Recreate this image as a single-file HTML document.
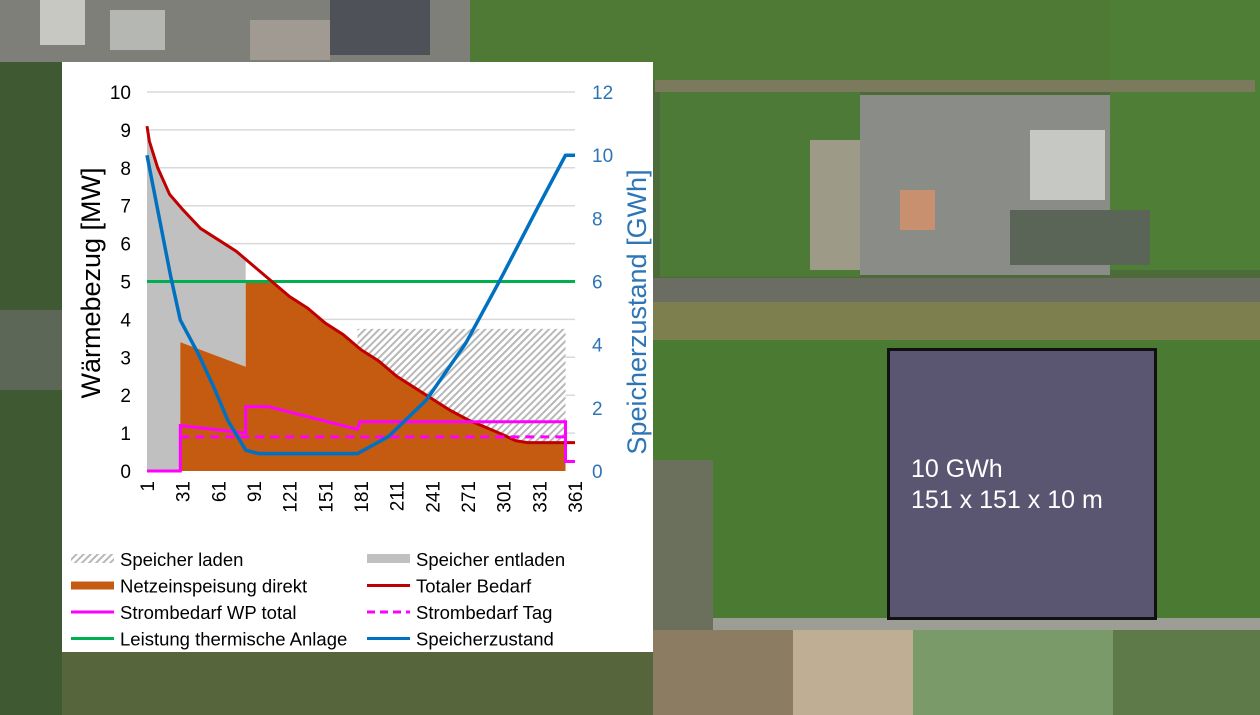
<!DOCTYPE html>
<html><head><meta charset="utf-8"><style>
body{margin:0;width:1260px;height:715px;overflow:hidden;background:#4d6b3a;font-family:"Liberation Sans",sans-serif;position:relative}
.b{position:absolute}
</style></head><body>
<div class="b" style="left:0;top:0;width:1260px;height:715px">
<div class="b" style="left:0;top:0;width:470px;height:62px;background:#7d7f78"></div>
<div class="b" style="left:40px;top:0;width:45px;height:45px;background:#c8c8c2"></div>
<div class="b" style="left:110px;top:10px;width:55px;height:40px;background:#b5b7b2"></div>
<div class="b" style="left:250px;top:20px;width:80px;height:40px;background:#a19a92"></div>
<div class="b" style="left:330px;top:0;width:100px;height:55px;background:#4e5258"></div>
<div class="b" style="left:470px;top:0;width:790px;height:80px;background:#4e7a35"></div>
<div class="b" style="left:1110px;top:0;width:150px;height:270px;background:#4f7e36"></div>
<div class="b" style="left:655px;top:80px;width:600px;height:12px;background:#7b7a5c"></div>
<div class="b" style="left:660px;top:92px;width:200px;height:185px;background:#4d7a36"></div>
<div class="b" style="left:810px;top:140px;width:50px;height:130px;background:#9e9a88"></div>
<div class="b" style="left:860px;top:95px;width:250px;height:180px;background:#8a8c88"></div>
<div class="b" style="left:900px;top:190px;width:35px;height:40px;background:#c99070"></div>
<div class="b" style="left:1010px;top:210px;width:140px;height:55px;background:#5a6558"></div>
<div class="b" style="left:1030px;top:130px;width:75px;height:70px;background:#c6c8c4"></div>
<div class="b" style="left:653px;top:278px;width:607px;height:24px;background:#6c6d62"></div>
<div class="b" style="left:653px;top:302px;width:607px;height:38px;background:#7e7f4f"></div>
<div class="b" style="left:653px;top:340px;width:607px;height:280px;background:#4b7a32"></div>
<div class="b" style="left:653px;top:618px;width:607px;height:12px;background:#9c9e96"></div>
<div class="b" style="left:653px;top:630px;width:140px;height:85px;background:#8b7c62"></div>
<div class="b" style="left:793px;top:630px;width:120px;height:85px;background:#bfae94"></div>
<div class="b" style="left:913px;top:630px;width:200px;height:85px;background:#7a9a6a"></div>
<div class="b" style="left:1113px;top:630px;width:147px;height:85px;background:#5d7a48"></div>
<div class="b" style="left:0;top:62px;width:62px;height:653px;background:#3f5a33"></div>
<div class="b" style="left:0;top:310px;width:62px;height:80px;background:#5d6757"></div>
<div class="b" style="left:62px;top:652px;width:591px;height:63px;background:#56653c"></div>
<div class="b" style="left:653px;top:460px;width:60px;height:170px;background:#6a705c"></div>
</div>
<div class="b" style="left:887px;top:348px;width:264px;height:266px;background:#5a5571;border:3px solid #111"></div>
<div class="b" style="left:911px;top:454px;color:#fff;font-size:25px;line-height:31px">10 GWh<br>151 x 151 x 10 m</div>

<svg class="b" style="left:0;top:0" width="1260" height="715">
<defs><pattern id="h" width="5" height="5" patternUnits="userSpaceOnUse" patternTransform="rotate(45)"><rect width="5" height="5" fill="#fff"/><rect width="2" height="5" fill="#b8b8b8"/></pattern></defs>
<rect x="62" y="62" width="591" height="590" fill="#fff"/>
<g id="g"></g>
</svg>
<script>
const leftTicks=[0,1,2,3,4,5,6,7,8,9,10];
const rightTicks=[0,2,4,6,8,10,12];
const xTicks=[1,31,61,91,121,151,181,211,241,271,301,331,361];
const redDays=[1,3,10,20,31,46,61,76,91,106,121,136,151,166,181,196,211,226,241,256,271,286,301,311,321,361];
const redVals=[9.1,8.7,8.0,7.3,6.9,6.4,6.1,5.8,5.4,5.0,4.6,4.3,3.9,3.6,3.2,2.9,2.5,2.2,1.9,1.6,1.35,1.15,0.95,0.8,0.75,0.75];
const orangeDays=[29,29,84,84,353,353];
const orangeVals=[0,3.4,2.75,5,5,0];
const hatchDays=[178,353];
const hatchTop=3.75;
const blueDays=[1,21,29,44,57,69,84,95,178,204,236,269,298,330,353,361];
const blueVals=[10,6.15,4.78,3.72,2.67,1.6,0.66,0.55,0.55,1.09,2.25,4.04,6.05,8.37,10,10];
const pinkDays=[1,29,29,84,84,103,178,180,353,353,361];
const pinkVals=[0,0,1.2,1.0,1.7,1.7,1.1,1.3,1.3,0.25,0.25];
const dashDays=[29,353];
const dashVal=0.9;
const plantVal=5;
const x=d=>147+(d-1)*1.189, y=v=>471-v*37.9, yR=g=>471-g*31.58;
const NS='http://www.w3.org/2000/svg', G=document.getElementById('g');
function mk(t,a,p){const e=document.createElementNS(NS,t);for(const k in a)e.setAttribute(k,a[k]);(p||G).appendChild(e);return e}
function red(d){for(let i=0;i<redDays.length-1;i++)if(d<=redDays[i+1]){const t=(d-redDays[i])/(redDays[i+1]-redDays[i]);return redVals[i]+t*(redVals[i+1]-redVals[i])}return redVals[redVals.length-1]}
leftTicks.forEach(v=>{if(v>0){const l=mk('line',{x1:x(1),x2:x(361),y1:y(v),y2:y(v),stroke:'#d9d9d9','stroke-width':1.5});}
 const t=mk('text',{x:131,y:y(v)+7,'text-anchor':'end','font-size':19,fill:'#000'});t.textContent=v;});
rightTicks.forEach(g=>{const t=mk('text',{x:592,y:yR(g)+7,'font-size':19,fill:'#2e75b6'});t.textContent=g;});
xTicks.forEach(d=>{const t=mk('text',{transform:`translate(${x(d)+7},481) rotate(-90)`,'text-anchor':'end','font-size':19,fill:'#000'});t.textContent=d;});
let gp=[];for(let d=1;d<=84;d++)gp.push([x(d),y(red(d))]);
let gs='M'+x(1)+','+y(0)+' L'+gp.map(p=>p.join(',')).join(' L')+' L'+x(84)+','+y(orangeVals[2])+' L'+x(29)+','+y(orangeVals[1])+' L'+x(29)+','+y(0)+'Z';
let e=mk('path',{d:gs,fill:'#c0c0c0'});
let hp=[];for(let d=hatchDays[0];d<=hatchDays[1];d++)hp.push(x(d)+','+y(red(d)));
e=mk('path',{d:'M'+x(hatchDays[0])+','+y(hatchTop)+' L'+x(hatchDays[1])+','+y(hatchTop)+' L'+hp.reverse().join(' L')+'Z',fill:'url(#h)'});
let op=[[orangeDays[0],orangeVals[0]],[orangeDays[1],orangeVals[1]],[orangeDays[2],orangeVals[2]]];
for(let d=84;d<=353;d++)op.push([d,Math.min(plantVal,red(d))]);op.push([353,0]);
e=mk('path',{d:'M'+op.map(p=>x(p[0])+','+y(p[1])).join(' L')+'Z',fill:'#c55a11'});
e=mk('line',{x1:x(1),x2:x(361),y1:y(plantVal),y2:y(plantVal),stroke:'#00b050','stroke-width':3});
e=mk('polyline',{points:redDays.map((d,i)=>x(d)+','+y(redVals[i])).join(' '),fill:'none',stroke:'#c00000','stroke-width':3});
e=mk('line',{x1:x(dashDays[0]),x2:x(dashDays[1]),y1:y(dashVal),y2:y(dashVal),stroke:'#ff00ff','stroke-width':3,'stroke-dasharray':'9,6'});
e=mk('polyline',{points:pinkDays.map((d,i)=>x(d)+','+y(pinkVals[i])).join(' '),fill:'none',stroke:'#ff00ff','stroke-width':3});
e=mk('polyline',{points:blueDays.map((d,i)=>x(d)+','+yR(blueVals[i])).join(' '),fill:'none',stroke:'#0070c0','stroke-width':3.5,'stroke-linejoin':'round'});
e=mk('text',{transform:'translate(100,283) rotate(-90)','text-anchor':'middle','font-size':27,fill:'#000'});e.textContent='Wärmebezug  [MW]';
e=mk('text',{transform:'translate(646,312) rotate(-90)','text-anchor':'middle','font-size':27,fill:'#2e75b6'});e.textContent='Speicherzustand  [GWh]';
const legend=[['Speicher laden','hatch'],['Speicher entladen','gray'],['Netzeinspeisung direkt','orange'],['Totaler Bedarf','#c00000'],['Strombedarf WP total','#ff00ff'],['Strombedarf Tag','dash'],['Leistung thermische Anlage','#00b050'],['Speicherzustand','#0070c0']];
legend.forEach((l,i)=>{const cx=i%2?367:71, cy=559+Math.floor(i/2)*26.5;
 const g=mk('g',{});
 if(l[1]=='hatch')mk('rect',{x:cx,y:cy-5,width:43,height:9,fill:'url(#h)'},g);
 else if(l[1]=='gray')mk('rect',{x:cx,y:cy-5,width:43,height:9,fill:'#c0c0c0'},g);
 else if(l[1]=='orange')mk('rect',{x:cx,y:cy-4,width:43,height:8,fill:'#c55a11'},g);
 else if(l[1]=='dash')mk('line',{x1:cx,x2:cx+43,y1:cy,y2:cy,stroke:'#ff00ff','stroke-width':3,'stroke-dasharray':'8,5'},g);
 else mk('line',{x1:cx,x2:cx+43,y1:cy,y2:cy,stroke:l[1],'stroke-width':3},g);
 const t=mk('text',{x:cx+49,y:cy+7,'font-size':18.5,fill:'#000'},g);t.textContent=l[0];});
</script>
</body></html>
